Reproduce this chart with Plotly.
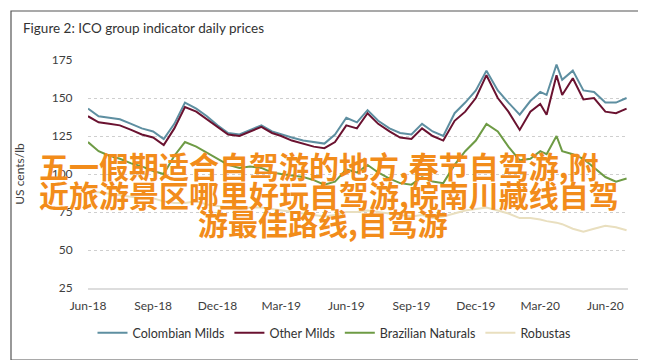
import plotly.graph_objects as go

dates = ["2018-06-01","2018-06-16","2018-07-01","2018-07-16","2018-08-01","2018-08-16",
         "2018-09-01","2018-09-16","2018-10-01","2018-10-16","2018-11-01","2018-11-16",
         "2018-12-01","2018-12-16","2019-01-01","2019-01-16","2019-02-01","2019-02-16",
         "2019-03-01","2019-03-16","2019-04-01","2019-04-16","2019-05-01","2019-05-16",
         "2019-06-01","2019-06-16","2019-07-01","2019-07-16","2019-08-01","2019-08-16",
         "2019-09-01","2019-09-16","2019-10-01","2019-10-16","2019-11-01","2019-11-16",
         "2019-12-01","2019-12-16","2020-01-01","2020-01-16","2020-02-01","2020-02-16",
         "2020-03-01","2020-03-10","2020-03-24","2020-04-01","2020-04-16","2020-05-01",
         "2020-05-16","2020-06-01","2020-06-16","2020-07-01"]

colombian = [143,138,137,136,133,130,128,123,133,147,143,138,
             132,127,126,129,132,128,126,124,122,121,120,126,
             137,134,142,135,130,127,126,133,128,125,140,147,
             155,168,155,147,139,148,154,152,172,162,168,155,
             154,147,147,150]
other = [138,134,133,132,129,126,124,119,130,144,141,136,
         131,126,125,128,131,127,125,122,120,118,117,121,
         132,130,140,133,128,124,123,130,125,122,135,141,
         150,165,150,141,129,141,146,139,165,152,163,149,
         150,141,140,143]
brazilian = [121,115,112,110,107,105,102,100,112,121,118,114,
             110,106,104,105,104,101,100,99,98,96,93,95,
             103,101,106,101,97,94,93,98,95,94,106,115,
             122,133,128,118,109,110,115,113,125,115,113,110,
             104,98,95,97]
robustas = [88,88,87,86,85,84,84,82,81,81,82,80,
            79,78,77,78,78,77,76,75,74,73,72,73,
            75,75,76,75,74,73,72,73,71,72,74,76,
            77,78,76,74,71,71,70,69,68,67,64,62,
            64,66,65,63]

series = [("Colombian Milds", colombian, "#5E8FA1"),
          ("Other Milds", other, "#6A1230"),
          ("Brazilian Naturals", brazilian, "#6E9B45"),
          ("Robustas", robustas, "#E9DFBF")]

overlay_lines = ["五一假期适合自驾游的地方,春节自驾游,附",
                 "近旅游景区哪里好玩自驾游,皖南川藏线自驾",
                 "游最佳路线,自驾游"]

fig = go.Figure()
for name, vals, col in series:
    fig.add_trace(go.Scatter(x=dates, y=vals, name=name, mode="lines",
                             line=dict(color=col, width=2)))

L, R, T, B = 80, 26, 52, 80
W, H = 646, 360
pw, ph = W - L - R, H - T - B

def px(x):
    return (x - L) / pw

def py(y):
    return (H - B - y) / ph

fig.update_layout(
    width=W, height=H,
    margin=dict(l=L, r=R, t=T, b=B),
    paper_bgcolor="white", plot_bgcolor="white",
    font=dict(family="Lato, sans-serif", size=12, color="#404040"),
    showlegend=True,
    legend=dict(orientation="h", x=px(326), xanchor="center", y=py(325), yanchor="middle",
                font=dict(size=12.5, color="#333333"), bgcolor="rgba(0,0,0,0)"),
    xaxis=dict(type="date", range=["2018-06-01", "2020-07-03"],
               tick0="2018-06-01", dtick="M3", tickformat="%b-%y",
               showgrid=False, showline=True, linecolor="#dddddd", linewidth=1.5,
               ticks="outside", ticklen=6, tickcolor="rgba(0,0,0,0)",
               tickfont=dict(size=12, color="#404040"), zeroline=False),
    yaxis=dict(range=[25, 175], dtick=25, tick0=25,
               showgrid=True, gridcolor="#cfcfcf", griddash="dot", gridwidth=1,
               ticks="outside", ticklen=12, tickcolor="rgba(0,0,0,0)",
               tickfont=dict(size=12, color="#404040"), zeroline=False,
               title=dict(text="US cents/lb", font=dict(size=12, color="#404040"), standoff=24)),
)

fig.add_annotation(text="Figure 2: ICO group indicator daily prices", xref="paper", yref="paper",
                   x=px(13), y=py(20), xanchor="left", yanchor="middle", showarrow=False,
                   font=dict(family="Lato, sans-serif", size=13.5, color="#333333"))

centers = [(311, 157), (321, 186), (315, 214)]
for line, (cx, cy) in zip(overlay_lines, centers):
    fig.add_annotation(text=line, xref="paper", yref="paper", x=px(cx), y=py(cy),
                       xanchor="center", yanchor="middle", showarrow=False,
                       font=dict(family="Noto Sans CJK SC", size=30, color="#F28C1A", weight=700))

fig.add_shape(type="rect", xref="paper", yref="paper",
              x0=px(3), x1=px(640), y0=py(352), y1=py(3),
              line=dict(color="#555555", width=1.2), fillcolor="rgba(0,0,0,0)", layer="below")

fig.write_html("out.html")
